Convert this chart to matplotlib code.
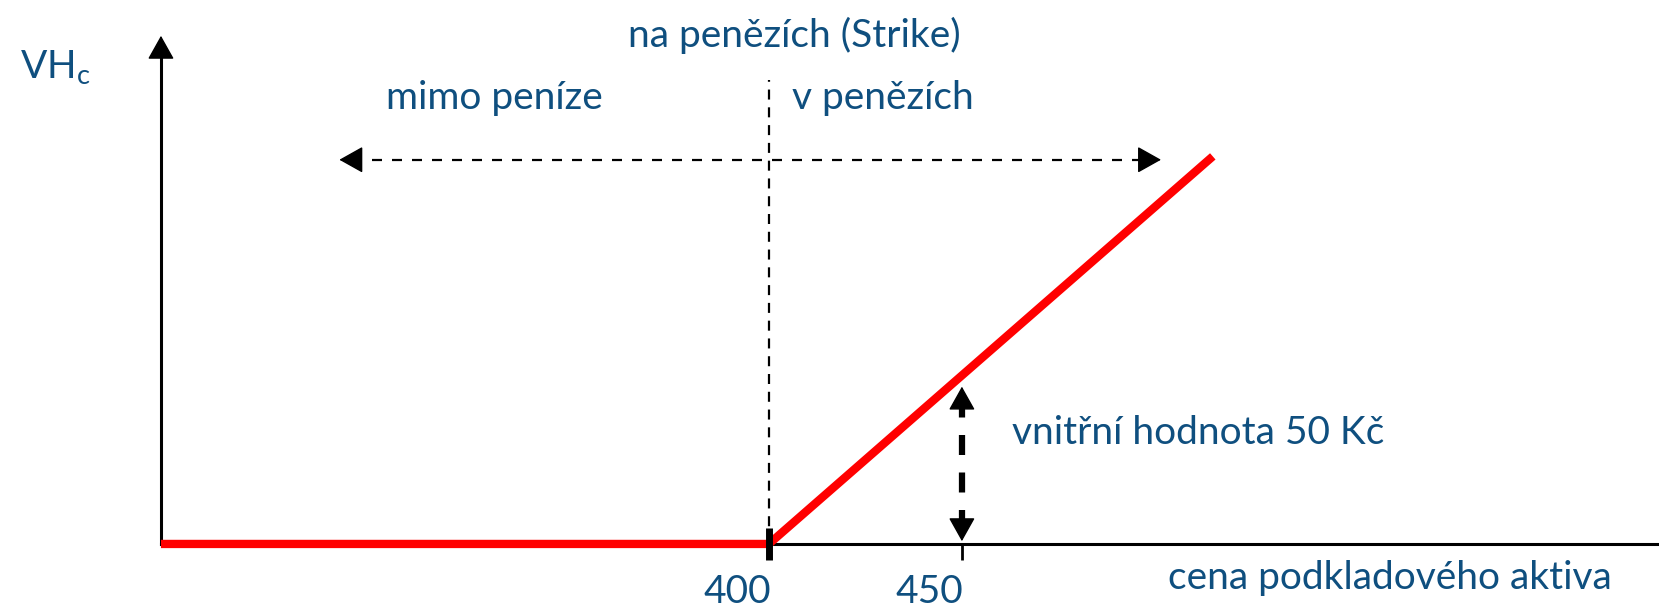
import matplotlib.pyplot as plt
import numpy as np

# option data (call, strike 400, spot 450)
strike = 400
spot = 450
price_min, price_max = 242.5, 515
tick_values = [400, 450]
tick_labels = ['400', '450']

prices = np.array([price_min, strike, price_max])
payoff = np.maximum(prices - strike, 0)
intrinsic = spot - strike

blue = '#0f4f7f'
plt.rcParams['font.family'] = ['Lato', 'DejaVu Sans']
plt.rcParams['mathtext.fontset'] = 'custom'
plt.rcParams['mathtext.rm'] = 'Lato'
fs = 28

fig = plt.figure(figsize=(16.59, 6.09), dpi=100)
ax = fig.add_axes([0, 0, 1, 1])
ax.set_xlim(200.8, 630.6)
ax.set_ylim(-19.3, 161.4)
ax.axis('off')

head = dict(arrowstyle='-|>,head_length=0.5,head_width=0.28', color='black', lw=1, mutation_scale=30)

# axes
ax.plot([price_min, price_min], [0, 148], color='black', lw=2.2)
ax.annotate('', xy=(price_min, 151.6), xytext=(price_min, 145), arrowprops=head)
ax.plot([price_min, 630.6], [0, 0], color='black', lw=2.2)

# payoff line
ax.plot(prices, payoff, color='red', lw=6, solid_capstyle='butt', zorder=3)

# strike line + ticks
ax.plot([strike, strike], [0, 137.7], color='black', lw=1.6, ls=(0, (4.5, 3.5)))
ax.plot([strike, strike], [-4.7, 4.7], color='black', lw=5, solid_capstyle='butt', zorder=4)
ax.plot([spot, spot], [0, -4.7], color='black', lw=2, solid_capstyle='butt')
for v, lab in zip(tick_values, tick_labels):
    ax.text(v - 8.3, -14.2, lab, color=blue, fontsize=fs, ha='center', va='center')

# horizontal double arrow
y_arr = 114
ax.plot([292, 498], [y_arr, y_arr], color='black', lw=1.6, ls=(0, (4.5, 4.5)))
ax.annotate('', xy=(288, y_arr), xytext=(293, y_arr), arrowprops=head)
ax.annotate('', xy=(502.3, y_arr), xytext=(497, y_arr), arrowprops=head)

# intrinsic value arrow
ax.plot([spot, spot], [4, intrinsic - 7], color='black', lw=4.5, ls=(0, (3.2, 2.8)))
ax.annotate('', xy=(spot, 0), xytext=(spot, 5), arrowprops=head)
ax.annotate('', xy=(spot, intrinsic - 2.5), xytext=(spot, intrinsic - 8), arrowprops=head)

# texts
ax.text(406.5, 151, 'na penězích (Strike)', color=blue, fontsize=fs, ha='center', va='center')
ax.text(328.8, 132.3, 'mimo peníze', color=blue, fontsize=fs, ha='center', va='center')
ax.text(429.5, 132.3, 'v penězích', color=blue, fontsize=fs, ha='center', va='center')
ax.text(463, 32.9, 'vnitřní hodnota 50 Kč', color=blue, fontsize=fs, ha='left', va='center')
ax.text(561, -10.1, 'cena podkladového aktiva', color=blue, fontsize=fs, ha='center', va='center')
ax.text(206, 138, r'VH$_\mathrm{c}$', color=blue, fontsize=fs, ha='left', va='baseline')

fig.savefig('out.png', dpi=100)
